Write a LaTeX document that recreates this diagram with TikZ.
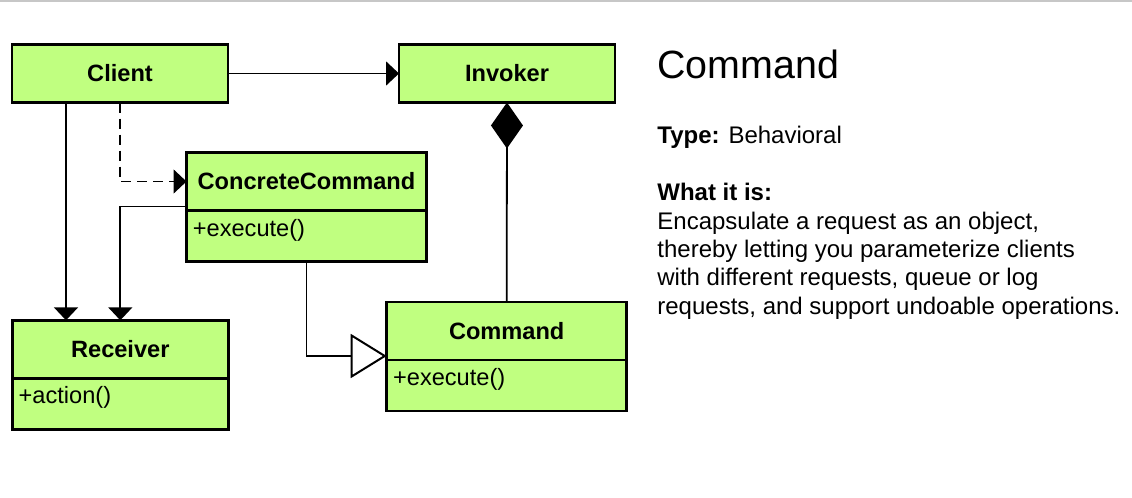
\documentclass[tikz,border=0pt]{standalone}
\usepackage{fontspec}
\setmainfont{Liberation Sans}
\usepackage{tikz}
\usepackage{xcolor}
\usetikzlibrary{arrows.meta, positioning}
\definecolor{umlgreen}{RGB}{192,255,128}
\tikzstyle{classhead} = [rectangle, 
draw=black, 
line width=1.4pt, 
fill=umlgreen, 
outer sep=0pt, inner sep=0pt, 
minimum height=29pt, 
font=\fontsize{11.8}{14}\selectfont\bfseries]
\tikzstyle{classops} = [rectangle, 
draw=black, 
line width=1.4pt, 
fill=umlgreen, 
outer sep=0pt, inner sep=0pt, 
minimum height=25.5pt]
\tikzstyle{opstext} = [anchor=north west, inner sep=3pt, yshift=-1pt, font=\fontsize{11.8}{14}\selectfont]
\tikzstyle{arrow} = [line width=0.9pt, -{Triangle[length=6.5pt, width=12pt]}]
\tikzstyle{depend} = [arrow, dash pattern=on 5pt off 3pt]
\tikzstyle{inherit} = [line width=0.9pt, -{Triangle[length=18pt, width=22pt, fill=white, line width=1pt]}]
\tikzstyle{compose} = [line width=0.9pt, {Diamond[length=23pt, width=16pt]}-]

\begin{document}
\begin{tikzpicture}[x=0.5pt, y=-0.5pt]
        \useasboundingbox (0,0) rectangle (1132,498);
        \draw[black!22, line width=1pt] (0,1) -- (1132,1);

        \node[classhead, minimum width=108pt] (client) at (120,73.5) {Client};
        \node[classhead, minimum width=108pt] (invoker) at (507,73.5) {Invoker};
        \node[classhead, minimum width=120pt] (concrete) at (306.5,181.5) {ConcreteCommand};
        \node[classops, minimum width=120pt, below=0pt of concrete, label={[opstext]north west:{+execute()}}] (concreteops) {};
        \node[classhead, minimum width=108pt] (receiver) at (120.3,349.3) {Receiver};
        \node[classops, minimum width=108pt, below=0pt of receiver, label={[opstext]north west:{+action()}}] (receiverops) {};
        \node[classhead, minimum width=120pt] (command) at (506.7,331) {Command};
        \node[classops, minimum width=120pt, below=0pt of command, label={[opstext]north west:{+execute()}}] (commandops) {};

        \draw[arrow] (client) -- (invoker);
        \draw[arrow] ([xshift=-27pt]client.south) -- ([xshift=-27pt]client.south |- receiver.north);
        \draw[depend] (client.south) |- (concrete.west);
        \draw[arrow] ([yshift=2pt]concrete.south west) -| (receiver.north);
        \draw[inherit] (concreteops.south) |- ([yshift=2pt]command.south west);
        \draw[compose] (invoker.south) -- (command.north);

        \node[anchor=base west, inner sep=0pt, font=\fontsize{19.7}{24}\selectfont] (title) at (657,78) {Command};
        \node[anchor=base west, inner sep=0pt, font=\fontsize{12}{14.2}\selectfont] (type) at (657,143) {\textbf{Type:} Behavioral};
        \node[anchor=north west, inner sep=0pt, align=left, font=\fontsize{12}{14.2}\selectfont] (whatis) at (657,183) {\textbf{What it is:}\\Encapsulate a request as an object,\\thereby letting you parameterize clients\\with different requests, queue or log\\requests, and support undoable operations.};
    \end{tikzpicture}
\end{document}
